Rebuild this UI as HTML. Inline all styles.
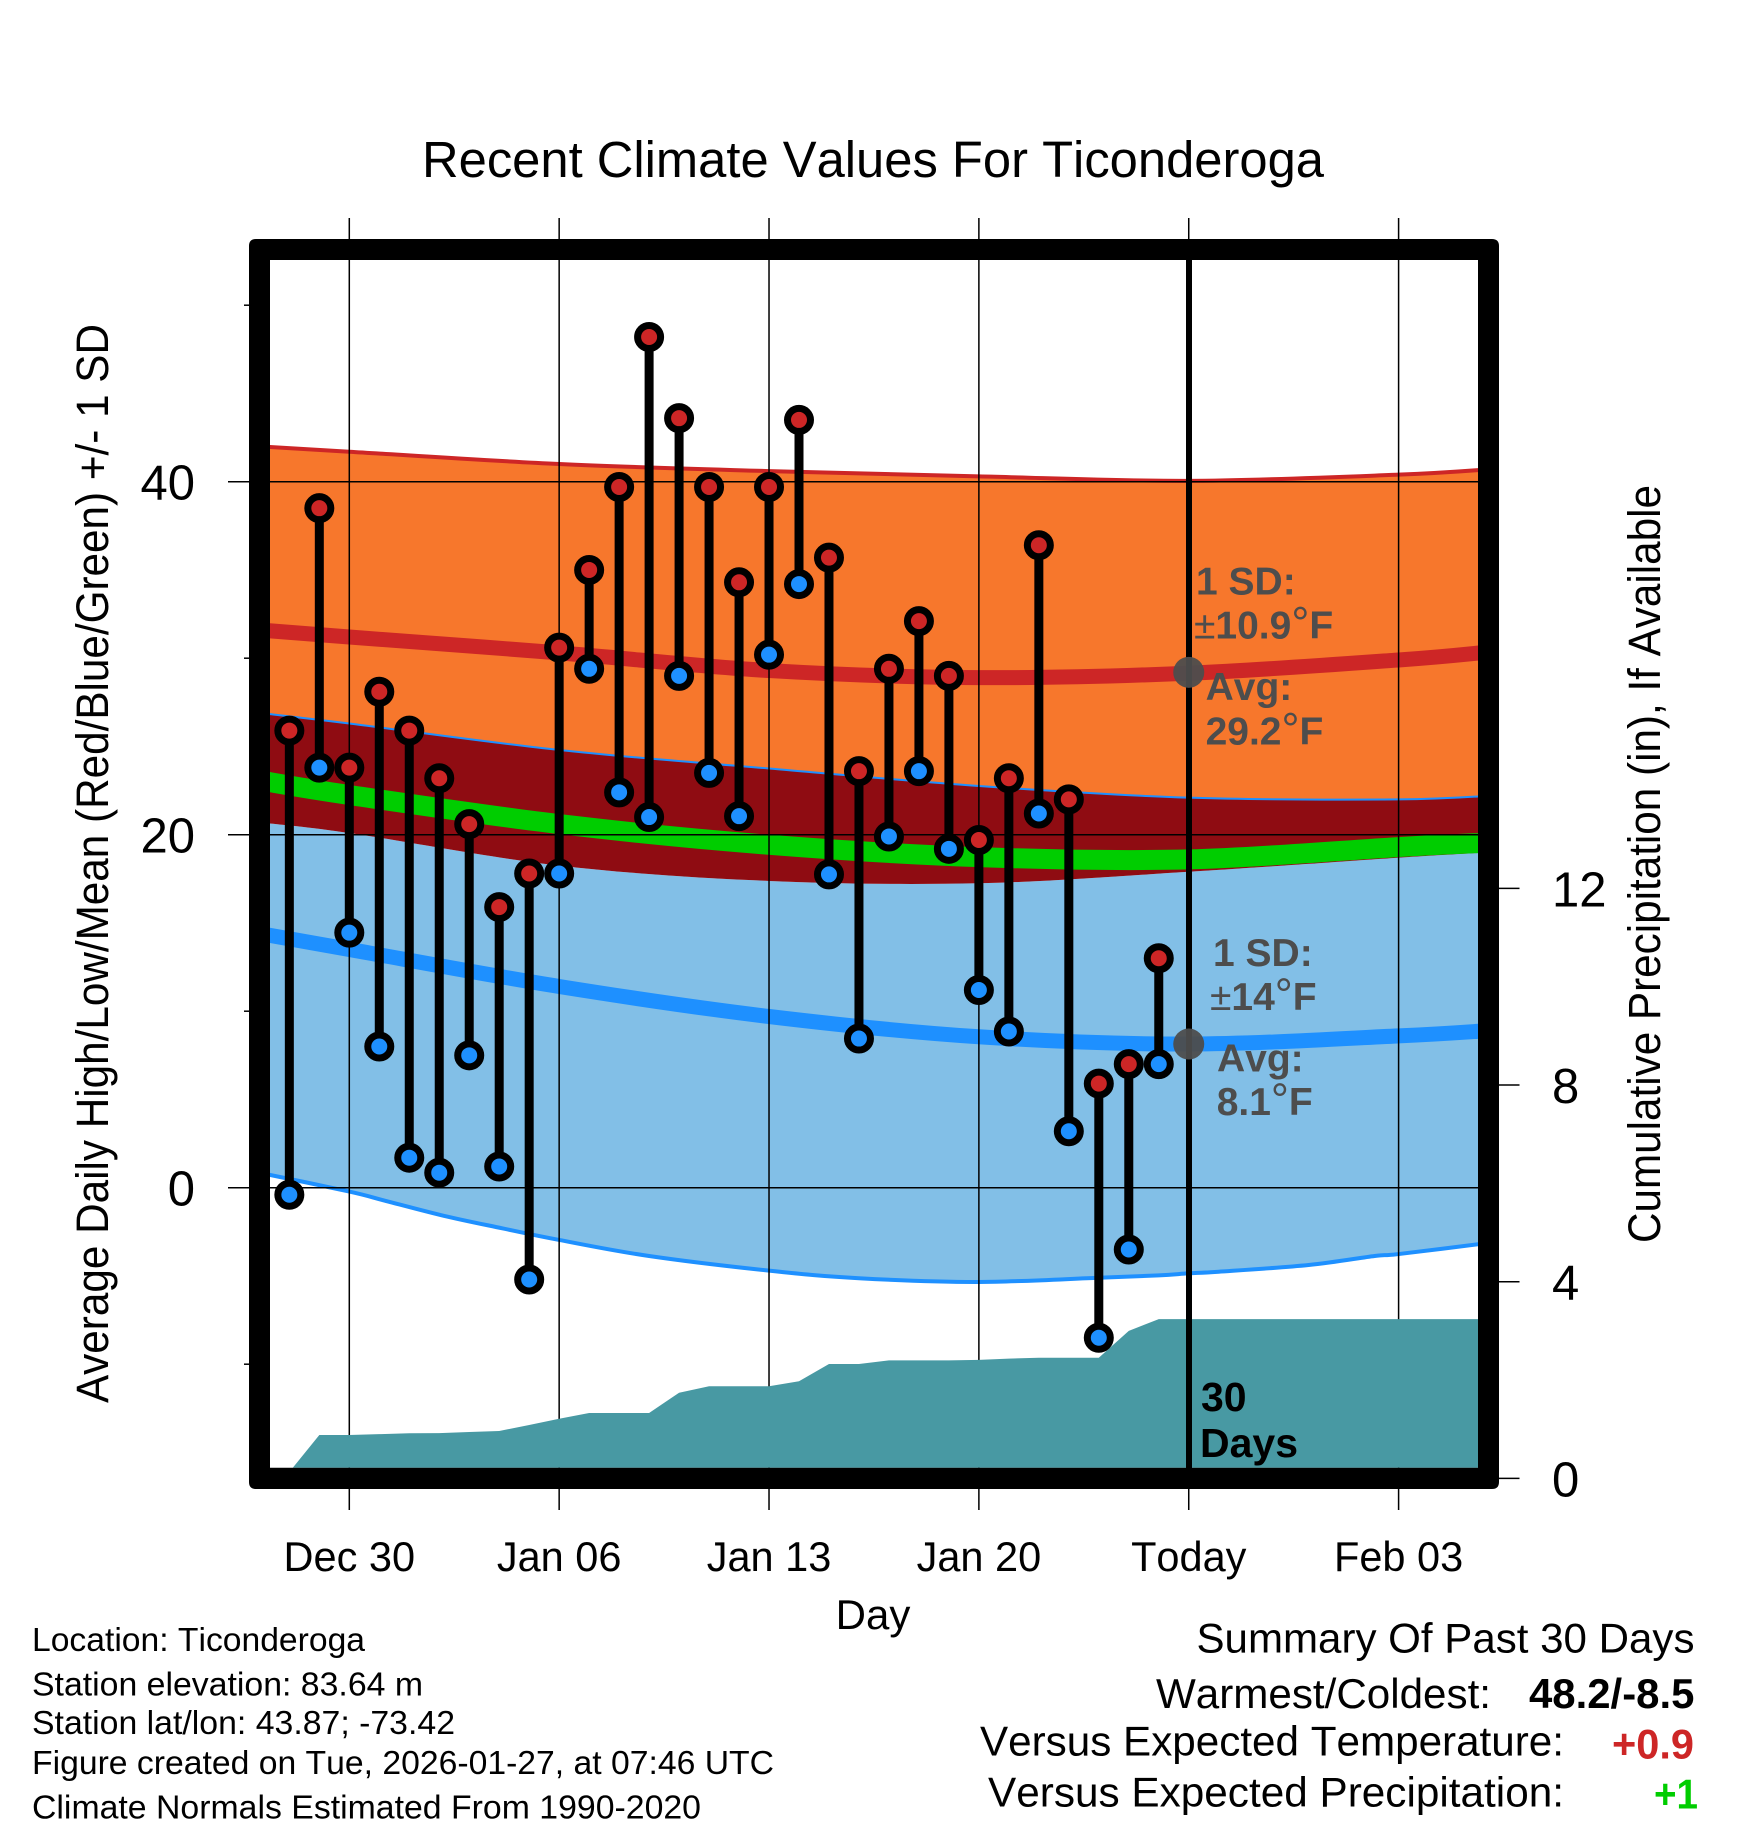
<!DOCTYPE html>
<html lang="en">
<head>
<meta charset="utf-8">
<title>Recent Climate Values For Ticonderoga</title>
<style>
html,body{margin:0;padding:0;background:#fff}
svg{display:block}
text{font-family:"Liberation Sans",Arial,sans-serif;fill:#000;font-kerning:none}
.note{font-weight:bold;font-size:39px;fill:#4d4d4d}
.note tspan.thin{font-weight:normal}
.note tspan.deg{font-weight:normal;font-size:45px}
.info{font-size:33.5px}
.sum{font-size:42px}
</style>
</head>
<body>
<svg id="chart" xmlns="http://www.w3.org/2000/svg" width="1748" height="1828" viewBox="0 0 1748 1828">
  <defs>
    <clipPath id="plot-clip"><rect x="270" y="260" width="1208" height="1207.7"></rect></clipPath>
  </defs>
  <rect x="0" y="0" width="1748" height="1828" fill="#fff"></rect>

  <g id="bands" clip-path="url(#plot-clip)"></g>
  <g id="grid"></g>
  <g id="precip" clip-path="url(#plot-clip)"></g>
  <line x1="1189" x2="1189" y1="260" y2="1468" stroke="#000" stroke-width="6"></line>
  <g id="obs" clip-path="url(#plot-clip)"></g>
  <g id="avg-dots"></g>

  <path fill="#000" fill-rule="evenodd" d="M256 239H1492Q1499 239 1499 246V1482Q1499 1489 1492 1489H256Q249 1489 249 1482V246Q249 239 256 239ZM270 260H1478V1467.7H270Z"></path>
  <g id="ticks"></g>

  <text x="422" y="177" font-size="51" textLength="902" lengthAdjust="spacingAndGlyphs">Recent Climate Values For Ticonderoga</text>
  <text transform="translate(108 1403) rotate(-90)" font-size="45" textLength="1079" lengthAdjust="spacingAndGlyphs">Average Daily High/Low/Mean (Red/Blue/Green) +/- 1 SD</text>
  <text transform="translate(1660 1243) rotate(-90)" font-size="45" textLength="758" lengthAdjust="spacingAndGlyphs">Cumulative Precipitation (in), If Available</text>
  <text x="873" y="1629" font-size="42" text-anchor="middle">Day</text>

  <text class="note" x="1196" y="594.6">1 SD:</text>
  <text class="note" x="1194" y="638.7"><tspan class="thin">±</tspan>10.9<tspan class="deg">°</tspan>F</text>
  <text class="note" x="1205.6" y="700">Avg:</text>
  <text class="note" x="1205.6" y="744.4">29.2<tspan class="deg">°</tspan>F</text>
  <text class="note" x="1213" y="966">1 SD:</text>
  <text class="note" x="1210" y="1010"><tspan class="thin">±</tspan>14<tspan class="deg">°</tspan>F</text>
  <text class="note" x="1217" y="1071.7">Avg:</text>
  <text class="note" x="1216.7" y="1115">8.1<tspan class="deg">°</tspan>F</text>

  <text x="1201" y="1411" font-size="41" font-weight="bold">30</text>
  <text x="1200" y="1457" font-size="41" font-weight="bold">Days</text>

  <text class="info" x="32" y="1651" textLength="333" lengthAdjust="spacingAndGlyphs">Location: Ticonderoga</text>
  <text class="info" x="32" y="1695.6" textLength="391" lengthAdjust="spacingAndGlyphs">Station elevation: 83.64 m</text>
  <text class="info" x="32" y="1734.2" textLength="423" lengthAdjust="spacingAndGlyphs">Station lat/lon: 43.87; -73.42</text>
  <text class="info" x="32" y="1774" textLength="742" lengthAdjust="spacingAndGlyphs">Figure created on Tue, 2026-01-27, at 07:46 UTC</text>
  <text class="info" x="32" y="1818.5" textLength="669" lengthAdjust="spacingAndGlyphs">Climate Normals Estimated From 1990-2020</text>

  <text class="sum" x="1196.5" y="1652.5" textLength="498" lengthAdjust="spacingAndGlyphs">Summary Of Past 30 Days</text>
  <text class="sum" x="1156" y="1708" textLength="335" lengthAdjust="spacingAndGlyphs">Warmest/Coldest:</text>
  <text class="sum" x="1529" y="1708" font-weight="bold" textLength="165.4" lengthAdjust="spacingAndGlyphs">48.2/-8.5</text>
  <text class="sum" x="980" y="1755.3" textLength="584" lengthAdjust="spacingAndGlyphs">Versus Expected Temperature:</text>
  <text class="sum" x="1612" y="1758.6" font-weight="bold" style="fill:#cd2626" textLength="82" lengthAdjust="spacingAndGlyphs">+0.9</text>
  <text class="sum" x="988" y="1806.5" textLength="576" lengthAdjust="spacingAndGlyphs">Versus Expected Precipitation:</text>
  <text class="sum" x="1654" y="1808.4" font-weight="bold" style="fill:#00cd00" textLength="44" lengthAdjust="spacingAndGlyphs">+1</text>
</svg>

<script>
// ---- chart data (days counted from Dec 30) ----
const obsDays = [-2,-1,0,1,2,3,4,5,6,7,8,9,10,11,12,13,14,15,16,17,18,19,20,21,22,23,24,25,26,27];
const dailyHigh = [25.9,38.5,23.8,28.1,25.9,23.2,20.6,15.9,17.8,30.6,35.0,39.7,48.2,43.6,39.7,34.3,39.7,43.5,35.7,23.6,29.4,32.1,29.0,19.7,23.2,36.4,22.0,5.9,7.0,13.0];
const dailyLow = [-0.4,23.8,14.45,8.0,1.7,0.85,7.5,1.2,-5.2,17.8,29.4,22.4,21.0,29.0,23.5,21.05,30.2,34.2,17.75,8.45,19.9,23.6,19.2,11.2,8.85,21.2,3.2,-8.5,-3.5,7.0];

const normalDays = [-3,0,7,14,21,28,35,38];
const highPlusSd = [42.0,41.7,41.0,40.6,40.3,40.05,40.4,40.7];
const highMean = [31.6,31.2,30.3,29.3,28.9,29.15,29.9,30.35];
const highMinusSd = [26.9,26.3,24.8,23.75,22.76,22.1,22.0,22.2];
const dailyMean = [23.08,22.25,20.6,19.43,18.73,18.6,19.3,19.55];
const lowPlusSd = [20.7,20.1,18.25,17.38,17.25,17.9,18.7,19.0];
const lowMean = [14.4,13.5,11.4,9.7,8.55,8.14,8.6,8.9];
const lowEdgeDays = [-3,0,1.2,3.15,5.1,7,10,14,17,21,25,27,28,29,32,34.2,35,38];
const lowMinusSd = [0.85,-0.22,-0.74,-1.59,-2.3,-2.96,-3.87,-4.7,-5.13,-5.34,-5.1,-4.97,-4.85,-4.76,-4.38,-3.87,-3.76,-3.13];

const precipDays = [-2,-1,0,1,2,3,4,5,6,7,8,9,10,11,12,13,14,15,16,17,18,19,20,21,22,23,24,25,26,27,38];
const precipTotal = [0.13,0.883,0.883,0.9,0.917,0.92,0.944,0.964,1.086,1.214,1.33,1.33,1.33,1.743,1.873,1.873,1.873,1.975,2.327,2.327,2.4,2.4,2.4,2.41,2.435,2.455,2.455,2.455,3.0,3.24,3.24];

const xTickDays = [0,7,14,21,28,35];
const xTickLabels = ['Dec 30','Jan 06','Jan 13','Jan 20','Today','Feb 03'];
const yMajorTicks = [40,20,0];
const yMajorLabels = ['40','20','0'];
const yMinorTicks = [50,30,10,-10];
const precipTicks = [12,8,4,0];
const precipTickLabels = ['12','8','4','0'];
const todayDay = 28;
const todayHighAvg = 29.2;
const todayLowAvg = 8.14;

// ---- axis functions ----
function xScale(d){ return 349.3 + d * 29.98; }
function yScale(v){ return 1187.7 - v * 17.65; }
function precipScale(p){ return 1478.4 - p * 49.17; }

const SVGNS = 'http://www.w3.org/2000/svg';
function make(tag, attrs, parent){
  const el = document.createElementNS(SVGNS, tag);
  for (const k in attrs) el.setAttribute(k, attrs[k]);
  parent.appendChild(el);
  return el;
}
function curve(days, vals, first){
  const pts = days.map((d,i)=>[xScale(d), yScale(vals[i])]);
  let s = (first ? 'M' : 'L') + pts[0][0].toFixed(2) + ' ' + pts[0][1].toFixed(2);
  for (let i=0;i<pts.length-1;i++){
    const p0 = pts[Math.max(i-1,0)], p1 = pts[i], p2 = pts[i+1], p3 = pts[Math.min(i+2,pts.length-1)];
    const c1x = p1[0]+(p2[0]-p0[0])/6, c1y = p1[1]+(p2[1]-p0[1])/6;
    const c2x = p2[0]-(p3[0]-p1[0])/6, c2y = p2[1]-(p3[1]-p1[1])/6;
    s += 'C'+c1x.toFixed(2)+' '+c1y.toFixed(2)+' '+c2x.toFixed(2)+' '+c2y.toFixed(2)+' '+p2[0].toFixed(2)+' '+p2[1].toFixed(2);
  }
  return s;
}
function bandPath(upperDays, upper, lowerDays, lower){
  return curve(upperDays, upper, true) + curve(lowerDays.slice().reverse(), lower.slice().reverse(), false) + 'Z';
}

// ---- normals ----
const bands = document.getElementById('bands');
const orangeBand = make('path',{d:bandPath(normalDays,highPlusSd,normalDays,highMinusSd),fill:'#f7772c'},bands);


const skyBand = make('path',{d:bandPath(normalDays,lowPlusSd,lowEdgeDays,lowMinusSd),fill:'#82bfe7'},bands);


const overlapBand = make('path',{d:bandPath(normalDays,highMinusSd,normalDays,lowPlusSd),fill:'#8f0c12'},bands);


const highTopLine = make('path',{d:curve(normalDays,highPlusSd,true),fill:'none',stroke:'#cd2626','stroke-width':4},bands);


const highBottomLine = make('path',{d:curve(normalDays,highMinusSd,true),fill:'none',stroke:'#1e90ff','stroke-width':2},bands);


const lowBottomLine = make('path',{d:curve(lowEdgeDays,lowMinusSd,true),fill:'none',stroke:'#1e90ff','stroke-width':4},bands);


const highMeanLine = make('path',{d:curve(normalDays,highMean,true),fill:'none',stroke:'#cd2626','stroke-width':15},bands);


const lowMeanLine = make('path',{d:curve(normalDays,lowMean,true),fill:'none',stroke:'#1e90ff','stroke-width':15},bands);


const meanLine = make('path',{d:curve(normalDays,dailyMean,true),fill:'none',stroke:'#00cd00','stroke-width':20},bands);



// ---- grid and ticks ----
const grid = document.getElementById('grid');
const ticks = document.getElementById('ticks');
xTickDays.forEach((d,i)=>{
  const g = make('line',{x1:xScale(d),x2:xScale(d),y1:218,y2:1510,stroke:'#000','stroke-width':1.5},grid);
  
  
  const t = make('text',{x:xScale(d),y:1571,'font-size':41.5,'text-anchor':'middle'},ticks);
  
  
  t.textContent = xTickLabels[i];
});
yMajorTicks.forEach((v,i)=>{
  const g = make('line',{x1:228,x2:1478,y1:yScale(v),y2:yScale(v),stroke:'#000','stroke-width':1.5},grid);
  
  
  const t = make('text',{x:195,y:yScale(v)+18,'font-size':49,'text-anchor':'end'},ticks);
  
  
  t.textContent = yMajorLabels[i];
});
yMinorTicks.forEach(v=>{
  const m = make('line',{x1:244,x2:249,y1:yScale(v),y2:yScale(v),stroke:'#000','stroke-width':1.5},ticks);
  
  
});
precipTicks.forEach((p,i)=>{
  const m = make('line',{x1:1499,x2:1519.5,y1:precipScale(p),y2:precipScale(p),stroke:'#000','stroke-width':1.5},ticks);
  
  
  const t = make('text',{x:1552,y:precipScale(p)+18,'font-size':49},ticks);
  
  
  t.textContent = precipTickLabels[i];
});

// ---- cumulative precipitation ----
const precipLayer = document.getElementById('precip');
let precipD = 'M' + xScale(precipDays[0]) + ' ' + precipScale(0);
precipDays.forEach((d,i)=>{ precipD += 'L' + xScale(d).toFixed(2) + ' ' + precipScale(precipTotal[i]).toFixed(2); });
precipD += 'L' + xScale(precipDays[precipDays.length-1]) + ' ' + precipScale(0) + 'Z';
const precipArea = make('path',{d:precipD,fill:'#4899a3'},precipLayer);



// ---- daily observations ----
const obs = document.getElementById('obs');
obsDays.forEach((d,i)=>{
  const x = xScale(d), hi = yScale(dailyHigh[i]), lo = yScale(dailyLow[i]);
  const stem = make('line',{x1:x,x2:x,y1:hi,y2:lo,stroke:'#000','stroke-width':9},obs);
  
  
  const lowDot = make('circle',{cx:x,cy:lo,r:11.5,fill:'#1e90ff',stroke:'#000','stroke-width':7},obs);
  
  
  const highDot = make('circle',{cx:x,cy:hi,r:11.5,fill:'#cd2626',stroke:'#000','stroke-width':7},obs);
  
  
});

// ---- today averages ----
const avgDots = document.getElementById('avg-dots');
const highAvgDot = make('circle',{cx:xScale(todayDay),cy:yScale(todayHighAvg),r:15.5,fill:'#4d4d4d','fill-opacity':0.95},avgDots);


const lowAvgDot = make('circle',{cx:xScale(todayDay),cy:yScale(todayLowAvg),r:15.5,fill:'#4d4d4d','fill-opacity':0.95},avgDots);


</script>
</body>
</html>
